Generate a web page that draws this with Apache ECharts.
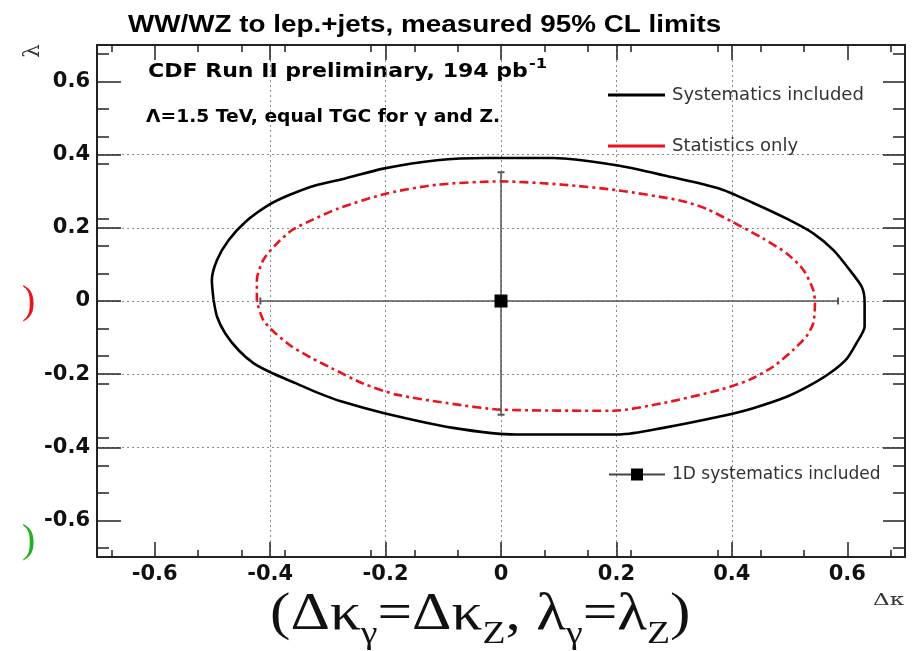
<!DOCTYPE html>
<html>
<head>
<meta charset="utf-8">
<script src="https://cdn.jsdelivr.net/npm/echarts@6/dist/echarts.min.js"></script>
<style>
  html, body { margin: 0; padding: 0; background: #fff; }
  #mychart { width: 917px; height: 651px; }
</style>
</head>
<body>
<div id="mychart"></div>
<script>
// tick labels (both axes)
const majorTicks = [-0.6, -0.4, -0.2, 0, 0.2, 0.4, 0.6]

// 95% CL contour, systematics included
const sysKappa = [-0.498, -0.501, -0.492, -0.472, -0.443, -0.403, -0.368, -0.322, -0.270, -0.204, -0.111, -0.025, 0.091, 0.200, 0.281, 0.379, 0.437, 0.495, 0.541, 0.576, 0.604, 0.625, 0.630, 0.630, 0.616, 0.599, 0.570, 0.535, 0.495, 0.437, 0.379, 0.281, 0.206, 0.027, -0.083, -0.204, -0.276, -0.316, -0.357, -0.397, -0.429, -0.455, -0.478, -0.492, -0.498]
const sysLambda = [0.003, 0.057, 0.112, 0.166, 0.216, 0.262, 0.289, 0.316, 0.335, 0.362, 0.385, 0.391, 0.391, 0.371, 0.344, 0.307, 0.268, 0.225, 0.185, 0.139, 0.085, 0.039, -0.002, -0.070, -0.115, -0.158, -0.197, -0.231, -0.262, -0.293, -0.316, -0.347, -0.365, -0.365, -0.347, -0.306, -0.275, -0.252, -0.224, -0.197, -0.170, -0.134, -0.088, -0.043, 0.003]

// 95% CL contour, statistics only
const statKappa = [-0.423, -0.423, -0.412, -0.391, -0.362, -0.328, -0.282, -0.198, -0.111, 0.000, 0.108, 0.200, 0.310, 0.356, 0.400, 0.454, 0.495, 0.524, 0.541, 0.544, 0.541, 0.529, 0.506, 0.472, 0.431, 0.379, 0.281, 0.195, 0.000, -0.094, -0.181, -0.240, -0.293, -0.328, -0.362, -0.391, -0.412, -0.423]
const statLambda = [-0.002, 0.057, 0.112, 0.153, 0.194, 0.221, 0.253, 0.294, 0.318, 0.327, 0.318, 0.303, 0.275, 0.252, 0.217, 0.171, 0.130, 0.085, 0.030, -0.006, -0.061, -0.097, -0.134, -0.179, -0.215, -0.243, -0.279, -0.300, -0.297, -0.279, -0.256, -0.225, -0.184, -0.156, -0.125, -0.088, -0.052, -0.002]

// 1D limits (systematics included)
const point1D = [0, 0]
const kappa1D = [-0.417, 0.584]
const lambda1D = [0.352, -0.311]

const pairs = (xs, ys) => xs.map((x, i) => [x, ys[i]])

const frameColor = '#222'
const labelFont = { fontFamily: 'DejaVu Sans', fontWeight: 'bold', fontSize: 21, color: '#111' }
const legendText = { fontFamily: 'DejaVu Sans', fontSize: 18, color: '#333', padding: [0, 0, 0, 2] }

function valueAxis(pos, major, minor, withLabels) {
  return {
    type: 'value',
    position: pos,
    min: -0.7,
    max: 0.7,
    axisLine: { show: true, onZero: false, lineStyle: { color: frameColor, width: 2 } },
    axisTick: { show: true, inside: true, length: major, customValues: majorTicks, lineStyle: { color: frameColor, width: 1.5 } },
    minorTick: { show: true, splitNumber: 4, length: minor, lineStyle: { color: frameColor, width: 1.5 } },
    axisLabel: Object.assign({
      show: withLabels,
      margin: 7,
      customValues: majorTicks,
      formatter: v => (Math.abs(v) < 1e-9 ? '0' : v.toFixed(1))
    }, labelFont),
    splitLine: {
      show: withLabels,
      showMinLine: false,
      showMaxLine: false,
      lineStyle: { color: '#8a8a8a', type: [2, 3], width: 1 }
    }
  }
}

const option = {
  animation: false,
  backgroundColor: '#fff',
  grid: { left: 97, right: 12, top: 45, bottom: 94, containLabel: false },
  xAxis: [
    valueAxis('bottom', 15, 7, true),
    valueAxis('top', 15, 7, false)
  ],
  yAxis: [
    valueAxis('left', 24, 12, true),
    valueAxis('right', 22, 12, false)
  ],
  legend: [
    {
      data: [{ name: 'Systematics included', icon: 'rect' }],
      left: 608, top: 86, padding: 0, itemWidth: 57, itemHeight: 3, itemGap: 0,
      selectedMode: false, textStyle: legendText
    },
    {
      data: [{ name: 'Statistics only', icon: 'rect' }],
      left: 608, top: 137, padding: 0, itemWidth: 57, itemHeight: 3, itemGap: 0,
      selectedMode: false, textStyle: legendText
    },
    {
      data: ['1D systematics included'],
      left: 608, top: 466, padding: 0, itemWidth: 56, itemHeight: 15, itemGap: 0,
      selectedMode: false, textStyle: Object.assign({}, legendText, { fontSize: 17 })
    }
  ],
  series: [
    {
      name: 'Systematics included',
      type: 'line',
      data: pairs(sysKappa, sysLambda),
      symbol: 'none',
      smooth: 0.25,
      color: '#000',
      lineStyle: { color: '#000', width: 2.6 },
      z: 3
    },
    {
      name: 'Statistics only',
      type: 'line',
      data: pairs(statKappa, statLambda),
      symbol: 'none',
      smooth: 0.25,
      color: '#e8141e',
      lineStyle: { color: '#e8141e', width: 2.6, type: [9, 4, 3, 4] },
      z: 3
    },
    {
      name: 'err-h',
      type: 'line',
      data: kappa1D.map(k => [k, point1D[1]]),
      symbol: 'rect',
      symbolSize: [2, 7],
      itemStyle: { color: '#555' },
      lineStyle: { color: '#555', width: 1.5 },
      z: 4
    },
    {
      name: 'err-v',
      type: 'line',
      data: lambda1D.map(l => [point1D[0], l]),
      symbol: 'rect',
      symbolSize: [7, 2],
      itemStyle: { color: '#555' },
      lineStyle: { color: '#555', width: 1.5 },
      z: 4
    },
    {
      name: '1D systematics included',
      type: 'line',
      data: [point1D],
      symbol: 'rect',
      symbolSize: 13,
      itemStyle: { color: '#000' },
      lineStyle: { color: '#444', width: 1.5 },
      z: 5
    }
  ],
  graphic: [
    {
      type: 'text', x: 128, y: 25, scaleX: 1.16,
      style: { text: 'WW/WZ to lep.+jets, measured 95% CL limits', font: 'bold 24px "Liberation Sans"', fill: '#000', verticalAlign: 'middle' }
    },
    {
      type: 'text', x: 148, y: 57, scaleX: 1.16,
      style: {
        text: '{a|CDF Run II preliminary, 194 pb}{b|-1}',
        verticalAlign: 'top',
        rich: {
          a: { font: 'bold 19px "DejaVu Sans"', fill: '#000', verticalAlign: 'top', lineHeight: 24, padding: [6, 0, 0, 0] },
          b: { font: 'bold 14px "DejaVu Sans"', fill: '#000', verticalAlign: 'top', lineHeight: 14, padding: [0, 0, 0, 1] }
        }
      }
    },
    {
      type: 'text', x: 146, y: 118, scaleX: 1.1,
      style: { text: 'Λ=1.5 TeV, equal TGC for γ and Z.', font: 'bold 17px "DejaVu Sans"', fill: '#000', verticalAlign: 'middle' }
    },
    {
      type: 'text', x: 22, y: 58, rotation: Math.PI / 2,
      style: { text: 'λ', font: '22px "DejaVu Serif"', fill: '#333' }
    },
    {
      type: 'text', x: 873, y: 601, scaleX: 1.45,
      style: { text: 'Δκ', font: '16px "DejaVu Serif"', fill: '#333', verticalAlign: 'middle' }
    },
    {
      type: 'text', x: 22, y: 302,
      style: { text: ')', font: '40px "Liberation Serif"', fill: '#e8141e', verticalAlign: 'middle' }
    },
    {
      type: 'text', x: 22, y: 541,
      style: { text: ')', font: '40px "Liberation Serif"', fill: '#22b022', verticalAlign: 'middle' }
    },
    {
      type: 'text', x: 270, y: 589, scaleX: 1.18,
      style: {
        text: '{b|(Δκ}{s|γ}{b|=Δκ}{s|Z}{b|, λ}{s|γ}{b|=λ}{s|Z}{b|)}',
        verticalAlign: 'top',
        rich: {
          b: { font: '52px "Liberation Serif"', fill: '#111', verticalAlign: 'top', lineHeight: 60 },
          s: { font: '32px "Liberation Serif"', fill: '#111', verticalAlign: 'top', lineHeight: 36, padding: [30, 0, 0, 0] }
        }
      }
    }
  ]
}

const myChart = echarts.init(document.getElementById('mychart'))
myChart.setOption(option)
</script>
</body>
</html>
